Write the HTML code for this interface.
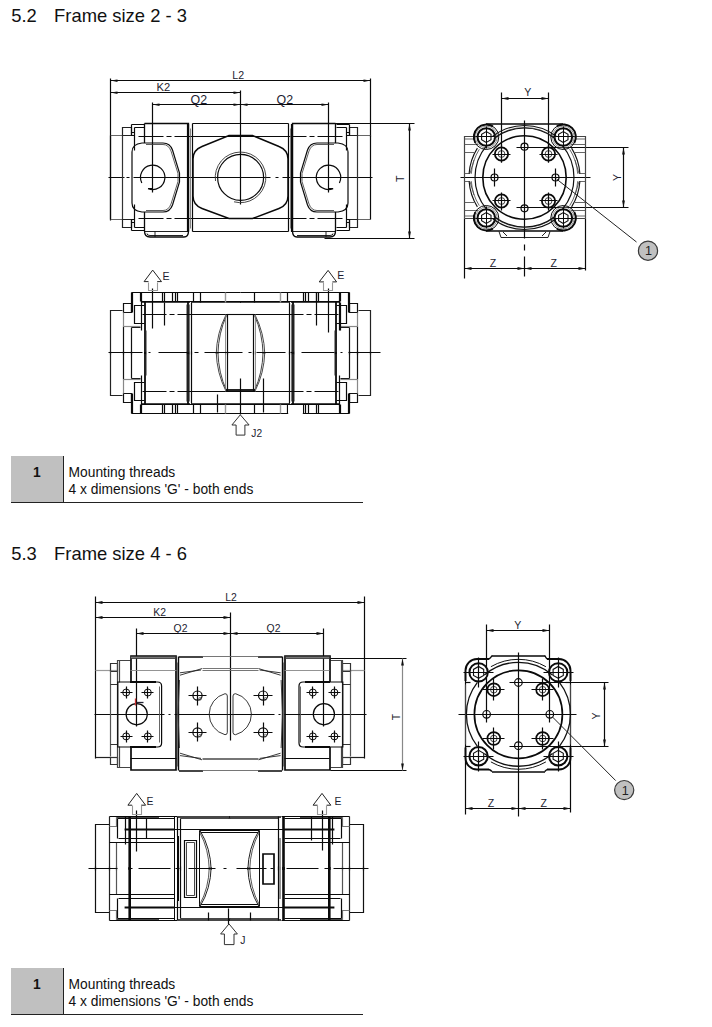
<!DOCTYPE html>
<html><head><meta charset="utf-8">
<style>
html,body{margin:0;padding:0;background:#fff;}
body{width:712px;height:1027px;position:relative;overflow:hidden;font-family:"Liberation Sans",sans-serif;color:#111;}
.h{position:absolute;font-size:18.4px;line-height:20px;white-space:pre;color:#111;}
.tb{position:absolute;left:11px;width:352px;height:46px;border-bottom:1.5px solid #222;}
.tb .n{position:absolute;left:0;top:0;width:51.5px;height:46px;background:#c0c0c0;font-weight:bold;font-size:13.8px;line-height:16.2px;padding-top:9.8px;box-sizing:border-box;text-align:center;}
.tb .v{position:absolute;left:51.5px;top:0;width:1.5px;height:46px;background:#222;}
.tb .t{position:absolute;left:57.6px;top:9.8px;font-size:13.8px;line-height:16.2px;white-space:pre;}
svg{position:absolute;left:0;top:0;}
svg text{font-family:"Liberation Sans",sans-serif;fill:#1c1c30;}
</style></head><body>
<div class="h" style="top:5.8px;left:11.2px">5.2</div><div class="h" style="top:5.8px;left:54.1px">Frame size 2 - 3</div>
<div class="h" style="top:544px;left:11.2px">5.3</div><div class="h" style="top:544px;left:54.1px">Frame size 4 - 6</div>
<div class="tb" style="top:455.5px"><div class="n">1</div><div class="v"></div><div class="t">Mounting threads
4 x dimensions 'G' - both ends</div></div>
<div class="tb" style="top:967.5px"><div class="n">1</div><div class="v"></div><div class="t">Mounting threads
4 x dimensions 'G' - both ends</div></div>
<svg width="712" height="1027" viewBox="0 0 712 1027" fill="none" stroke="#0a0a0a" stroke-width="1.2">
<g id="top1">
<!-- dimension lines -->
<path d="M110.5 78.5V220.5M370.5 78.5V136.5M110.5 80.5H370.5M110.5 92.5H240.5M152.5 102.5V192.5M152.5 104.5H328.5M328.5 102.5V192.5M240.5 90.5V204.5"/>
<path d="M334.5 123.5H414.5M324.5 238.5H414.5M409.5 123.5V238.5"/>
<g fill="#111" stroke="none">
<path d="M110.5 80.5l7-1v2.6zM370.5 80.5l-7-1v2.6zM110.5 92.5l7-1v2.6zM240.5 92.5l-7-1v2.6zM152.5 104.5l7-1v2.6zM240.5 104.5l-7-1v2.6zM240.5 104.5l7-1v2.6zM328.5 104.5l-7-1v2.6zM409.5 123.5l-1.4 7h2.8zM409.5 238.5l-1.4-7h2.8z"/>
</g>
<g stroke="none">
<text x="232.3" y="79" font-size="10.6">L2</text>
<text x="156.5" y="91" font-size="11.2">K2</text>
<text x="190.5" y="103.8" font-size="12.4">Q2</text>
<text x="276.5" y="103.8" font-size="12.4">Q2</text>
<text transform="translate(404,182) rotate(-90)" font-size="10.6">T</text>
</g>
<!-- centre lines -->
<path d="M108.5 177.5H124.5M126.5 177.5H129.5M133.5 177.5H270.5M275.5 177.5H278.5M282.5 177.5H372.5"/>
<path d="M138.5 136.5H196.5M342.5 136.5H284.5M138.5 218.5H196.5M342.5 218.5H284.5" stroke-dasharray="25 3 5 3"/>
<!-- pipe ends -->
<path d="M122.5 135.5H110.5M122.5 219.5H110.5M357.5 135.5H370.5M357.5 219.5H370.5" stroke="#666"/><path d="M110.5 135.5V219.5M370.5 135.5V219.5"/>
<path d="M122.5 127.5H131.5V135.5H122.5zM122.5 219.5H131.5V227.5H122.5zM349.5 127.5H357.5V135.5H349.5zM349.5 219.5H357.5V227.5H349.5z" stroke="#222"/>
<path d="M122.5 135.5V219.5M357.5 135.5V219.5" stroke="#333"/>
<path d="M131.5 124.5H144.5M131.5 124.5V135.5M134.5 127.5V150.5M134.5 127.5H144.5M131.5 132.5H134.5M131.5 135.5H134.5M131.5 230.5H144.5M131.5 230.5V219.5M134.5 227.5V204.5M134.5 227.5H144.5M131.5 222.5H134.5M131.5 219.5H134.5M349.5 124.5H336.5M349.5 124.5V135.5M346.5 127.5V150.5M346.5 127.5H336.5M349.5 132.5H346.5M349.5 135.5H346.5M349.5 230.5H336.5M349.5 230.5V219.5M346.5 227.5V204.5M346.5 227.5H336.5M349.5 222.5H346.5M349.5 219.5H346.5"/>
<!-- blocks -->
<path d="M144.5 123.5H188.5V231Q188.5 237 184 237H150Q144.5 237 144.5 231V212M144.5 123.5V143" stroke-width="1.3"/>
<path d="M188 124V232" stroke-width="2.2"/>
<path d="M144.5 231.5H188M155 231.5V237M147 233.5Q147 235.5 150 235.5H183" stroke-width="0.9"/>
<path d="M335.5 123.5H292.5V231Q292.5 237 297 237H330Q335.5 237 335.5 231V212M335.5 123.5V143" stroke-width="1.3"/>
<path d="M292 124V232" stroke-width="2.2"/>
<path d="M335.5 231.5H293M326 231.5V237M333 233.5Q333 235.5 330 235.5H297" stroke-width="0.9"/>
<!-- flanges -->
<path id="fl1" d="M144.5 143H163Q170 143 172.5 150L179.5 173V182L172.5 205Q170 212 163 212H144.5Q144.5 212 142 212Q132 211 132 203V152Q132 144 142 143Z" stroke-width="1.2"/>
<path d="M146 144.5H163Q168.5 144.5 171 151L178 173.5V181.5L171 204Q168.5 210.5 163 210.5H146" stroke-width="0.8" stroke="#333"/>
<path d="M335.5 143H317Q310 143 307.5 150L300.5 173V182L307.5 205Q310 212 317 212H335.5Q335.5 212 338 212Q348 211 348 203V152Q348 144 338 143Z" stroke-width="1.2"/>
<path d="M334 144.5H317Q311.5 144.5 309 151L302 173.5V181.5L309 204Q311.5 210.5 317 210.5H334" stroke-width="0.8" stroke="#333"/>
<!-- small thread circles -->
<path d="M141.8 182.9A12.2 12.2 0 1 1 148.1 188.7H153" />
<path d="M339.4 182.9A12.2 12.2 0 1 0 333.1 188.7H328" />
<!-- middle section -->
<path d="M192.5 123.5H288.5M192.5 231.5H288.5M192.5 123.5V231.5M288.5 123.5V231.5M188.5 136.5H292.5M188.5 218.5H292.5" />
<path d="M190.5 128.5V228.5M290.5 128.5V228.5" stroke="#666" stroke-width="0.8"/>
<path d="M229 135.5H252.5L279 146.5Q288 150 288 159V196Q288 205 279 208.5L252.5 218.5H229L202 208.5Q193 205 193 196V159Q193 150 202 146.5Z" stroke-width="1.5"/>
<circle cx="240.6" cy="177.4" r="23"/>
<path d="M215.5 181A25.3 25.3 0 1 1 234 201.8" stroke="#333" stroke-width="0.9"/>
</g>

<g id="top2">
<path d="M501.5 92.5V162.5M548.5 92.5V162.5M501.5 98.5H548.5M516.5 147.5H628.5M516.5 207.5H628.5M623.5 147.5V207.5M464.5 218.5V278.5M585.5 218.5V270.5M464.5 268.5H585.5" />
<path d="M524.5 120.5V238.5M524.5 244.5V250.5M524.5 256.5V276.5" />
<path d="M460.5 177.5H590.5" />
<g fill="#111" stroke="none"><path d="M501.5 98.5l7-1.4v2.8zM548.5 98.5l-7-1.4v2.8zM623.5 147.5l-1.4 7h2.8zM623.5 207.5l-1.4-7h2.8zM464.5 268.5l7-1.4v2.8zM524.5 268.5l-7-1.4v2.8zM524.5 268.5l7-1.4v2.8zM585.5 268.5l-7-1.4v2.8z"/></g>
<g stroke="none"><text x="524.3" y="95.8" font-size="10.6">Y</text><text x="489.8" y="266.8" font-size="10.6">Z</text><text x="550.5" y="267.2" font-size="10.6">Z</text><text transform="translate(620.5,181) rotate(-90)" font-size="10.6">Y</text></g>
<path d="M476.5 136.5H464.5V218.5M572.5 136.5H585.5V218.5M464.5 218.5H476.5M585.5 218.5H572.5" stroke="#444"/>
<path d="M464.5 139H474M464.5 144.5H478M464.5 152.5H474M464.5 173.5H470L474 160M464.5 181.5H470L474 195M464.5 202.5H474M464.5 210.5H478M464.5 216H474" stroke="#555" stroke-width="0.9"/>
<path d="M585.5 139H575M585.5 144.5H571M585.5 152.5H575M585.5 173.5H579L575 160M585.5 181.5H579L575 195M585.5 202.5H575M585.5 210.5H571M585.5 216H575" stroke="#555" stroke-width="0.9"/>
<path d="M486 124H563M486 231H563" stroke-width="1.5"/>
<path d="M499 231.5L501 237.5H548L550 231.5M503 232L507 236M546 232L542 236" stroke-width="0.9"/>
<circle cx="486.3" cy="137" r="12.5" stroke-width="1"/>
<circle cx="486.3" cy="137" r="10.9" stroke="#666" stroke-width="0.7"/>
<circle cx="486.3" cy="137" r="8.8" stroke-width="2" fill="#fff"/>
<path d="M486.3 142.4L481.6 139.7L481.6 134.3L486.3 131.6L491 134.3L491 139.7Z" stroke-width="1.1" stroke="#111"/>
<path d="M475.5 136.5H497.5M486.5 126.5V148.5" stroke-width="1"/>
<circle cx="486.3" cy="218" r="12.5" stroke-width="1"/>
<circle cx="486.3" cy="218" r="10.9" stroke="#666" stroke-width="0.7"/>
<circle cx="486.3" cy="218" r="8.8" stroke-width="2" fill="#fff"/>
<path d="M486.3 223.4L481.6 220.7L481.6 215.3L486.3 212.6L491 215.3L491 220.7Z" stroke-width="1.1" stroke="#111"/>
<path d="M475.5 218.5H497.5M486.5 206.5V228.5" stroke-width="1"/>
<circle cx="563.3" cy="137" r="12.5" stroke-width="1"/>
<circle cx="563.3" cy="137" r="10.9" stroke="#666" stroke-width="0.7"/>
<circle cx="563.3" cy="137" r="8.8" stroke-width="2" fill="#fff"/>
<path d="M563.3 142.4L558.6 139.7L558.6 134.3L563.3 131.6L568 134.3L568 139.7Z" stroke-width="1.1" stroke="#111"/>
<path d="M552.5 136.5H574.5M563.5 126.5V148.5" stroke-width="1"/>
<circle cx="563.3" cy="218" r="12.5" stroke-width="1"/>
<circle cx="563.3" cy="218" r="10.9" stroke="#666" stroke-width="0.7"/>
<circle cx="563.3" cy="218" r="8.8" stroke-width="2" fill="#fff"/>
<path d="M563.3 223.4L558.6 220.7L558.6 215.3L563.3 212.6L568 215.3L568 220.7Z" stroke-width="1.1" stroke="#111"/>
<path d="M552.5 218.5H574.5M563.5 206.5V228.5" stroke-width="1"/>
<path d="M475.3 142.9A12.5 12.5 0 0 1 492.9 126.4" stroke-width="1.9"/>
<path d="M492.9 228.6A12.5 12.5 0 0 1 475.3 212.1" stroke-width="1.9"/>
<path d="M556.8 126.3A12.5 12.5 0 0 1 574.3 143" stroke-width="1.9"/>
<path d="M574.3 212A12.5 12.5 0 0 1 556.8 228.7" stroke-width="1.9"/>
<path d="M571.6 148.1A55.5 55.5 0 0 1 579.9 173.6" stroke-width="1.1" stroke="#111"/>
<path d="M569.7 149.3A53.3 53.3 0 0 1 577.7 173.8" stroke-width="0.8" stroke="#444"/>
<path d="M579.9 181.4A55.5 55.5 0 0 1 571.6 206.9" stroke-width="1.1" stroke="#111"/>
<path d="M577.7 181.2A53.3 53.3 0 0 1 569.7 205.7" stroke-width="0.8" stroke="#444"/>
<path d="M477.4 206.9A55.5 55.5 0 0 1 469.1 181.4" stroke-width="1.1" stroke="#111"/>
<path d="M479.3 205.7A53.3 53.3 0 0 1 471.3 181.2" stroke-width="0.8" stroke="#444"/>
<path d="M469.1 173.6A55.5 55.5 0 0 1 477.4 148.1" stroke-width="1.1" stroke="#111"/>
<path d="M471.3 173.8A53.3 53.3 0 0 1 479.3 149.3" stroke-width="0.8" stroke="#444"/>
<path d="M492.5 136.5A52 52 0 0 1 556.5 136.5" stroke-width="1.1" stroke="#111"/>
<path d="M493.7 138.1A50 50 0 0 1 555.3 138.1" stroke-width="0.8" stroke="#444"/>
<path d="M556.5 218.5A52 52 0 0 1 492.5 218.5" stroke-width="1.1" stroke="#111"/>
<path d="M555.3 216.9A50 50 0 0 1 493.7 216.9" stroke-width="0.8" stroke="#444"/>
<path d="M562.4 145.7A49.5 49.5 0 0 1 562.4 209.3" stroke-width="1.2" stroke="#111"/>
<path d="M486.6 209.3A49.5 49.5 0 0 1 486.6 145.7" stroke-width="1.2" stroke="#111"/>
<path d="M494.7 138A49.5 49.5 0 0 1 554.3 138" stroke-width="1.2" stroke="#111"/>
<path d="M554.3 217A49.5 49.5 0 0 1 494.7 217" stroke-width="1.2" stroke="#111"/>
<circle cx="524.5" cy="177.5" r="41.7" stroke-width="1.6"/>
<circle cx="501.5" cy="154" r="6.6" stroke-width="1.8" fill="#fff"/>
<circle cx="501.5" cy="154" r="3.4" stroke-width="0.9" stroke="#333"/>
<path d="M492.5 154.5H510.5M501.5 144.5V162.5"/>
<circle cx="501.5" cy="201" r="6.6" stroke-width="1.8" fill="#fff"/>
<circle cx="501.5" cy="201" r="3.4" stroke-width="0.9" stroke="#333"/>
<path d="M492.5 200.5H510.5M501.5 192.5V210.5"/>
<circle cx="548.5" cy="154" r="6.6" stroke-width="1.8" fill="#fff"/>
<circle cx="548.5" cy="154" r="3.4" stroke-width="0.9" stroke="#333"/>
<path d="M539.5 154.5H557.5M548.5 144.5V162.5"/>
<circle cx="548.5" cy="201" r="6.6" stroke-width="1.8" fill="#fff"/>
<circle cx="548.5" cy="201" r="3.4" stroke-width="0.9" stroke="#333"/>
<path d="M539.5 200.5H557.5M548.5 192.5V210.5"/>
<circle cx="524.5" cy="146.7" r="3.5" stroke-width="1.2"/>
<circle cx="524.5" cy="208.3" r="3.5" stroke-width="1.2"/>
<circle cx="494.5" cy="177.5" r="3.5" stroke-width="1.2"/>
<circle cx="555.5" cy="177.5" r="3.5" stroke-width="1.2"/>
<path d="M494.5 168.5V186.5M555.5 168.5V186.5"/>
<path d="M556.5 179L636.5 242" stroke-width="1" stroke="#222"/>
<circle cx="648" cy="250.7" r="9.6" fill="#c0c0c0" stroke="#3a3a3a" stroke-width="1.2"/>
<text x="645" y="255" font-size="12.6" stroke="none" style="fill:#222">1</text>
</g>

<g id="top3">
<defs>
<g id="t3q">
<!-- pipe end + nut -->
<path d="M122.5 310.5H110.5V354.5" stroke="#222"/>
<path d="M123.5 303.5H131.5V312.5H123.5zM123.5 326.5V354.5M131.5 327.5V354.5M131.5 327.5H140.5" stroke="#111"/>
<path d="M123.5 312.5V326.5" stroke="#888"/>
<path d="M123.5 326.5H140.5" stroke="#888"/>
<path d="M144.5 305.5H134.5V323.5H144.5"/>
<!-- top plate -->
<path d="M131.5 292.5H240.5M131.5 292.5V312.5M132.5 292.5V312.5M141.5 301.5H240.5M141.5 300.5V330.5"/>
<path d="M140.5 292.5V301.5M141.5 292.5V301.5M162.5 292.5V301.5M164.5 292.5V301.5M172.5 292.5V301.5M175.5 292.5V301.5M177.5 292.5V301.5M193.5 292.5V301.5"/>
<!-- block -->
<path d="M145 302V354M188 302V354" stroke-width="1.8"/>
<path d="M141 302H190" stroke-width="1.6"/>
<path d="M186.5 304.5V354.5M146.5 330.5V354.5" stroke="#777" stroke-width="0.8"/>
<path d="M142.5 314.5H190.5" stroke-width="1.2" stroke-dasharray="24 3 5 3"/>
<!-- middle -->
<path d="M191.5 302.5V354.5"/>
<path d="M189.5 304.5V354.5" stroke="#555" stroke-width="0.8"/>
<path d="M191 302H241" stroke-width="1.7"/>
<path d="M188.5 314.5H240.5"/>
<!-- lens -->
<path d="M227.5 314.5V354.5"/>
<path d="M226.5 315.5Q218.5 333 217.9 354" stroke="#444" stroke-width="1"/>
<path d="M226 314.8Q216.8 333 216.2 354" stroke="#333" stroke-width="0.9"/>
<path d="M225.5 314.5V354.5" stroke="#777" stroke-width="0.8"/>
</g>
<g id="t3h"><use href="#t3q"/><use href="#t3q" transform="translate(0,706) scale(1,-1)"/></g>
</defs>
<use href="#t3h"/><use href="#t3h" transform="translate(481,0) scale(-1,1)"/>
<path d="M200.5 292.5V302.5M254.5 292.5V302.5M200.5 404.5V413.5M254.5 404.5V413.5"/>
<path d="M225.5 292.5V302.5M280.5 292.5V302.5M225.5 404.5V413.5M280.5 404.5V413.5" stroke="#999" stroke-width="1.4"/>
<rect x="288.2" y="405" width="14.6" height="9.4" fill="#fff" stroke="none"/>
<!-- bottom of lens bold -->
<path d="M226 390H255" stroke-width="1.8"/>
<path d="M226.5 314.5H254.5" stroke-width="1.1"/>
<!-- centre line -->
<path d="M108.5 352.5H142.5M148.5 352.5H150.5M158.5 352.5H187.5M194.5 352.5H198.5M204.5 352.5H242.5M248.5 352.5H251.5M256.5 352.5H285.5M290.5 352.5H292.5M301.5 352.5H334.5M340.5 352.5H342.5M348.5 352.5H380.5"/>
<!-- short verticals -->
<path d="M152.5 288.5V328.5M164.5 302.5V325.5M316.5 292.5V325.5M328.5 288.5V332.5M340.5 302.5V330.5M217.5 394.5V412.5M240.5 378.5V414.5M263.5 378.5V412.5"/>
<!-- arrows -->
<path d="M148.5 281.6H144.1L152.7 270.1L161.5 281.6H157.2" stroke="#222" stroke-width="1"/><path d="M148.5 282.5V290.5H157.5V282.5" stroke="#999" stroke-width="1.1"/>
<path d="M323.9 281.9H319.2L328.1 270.4L336.6 281.9H332.4" stroke="#222" stroke-width="1"/><path d="M323.5 282.5V290.5H332.5V282.5" stroke="#999" stroke-width="1.1"/>
<path d="M240.3 414.8L231.9 425H236.1V435.1H244.9V425H249.1Z" stroke="#333" stroke-width="1"/>
<g stroke="none">
<text x="162.4" y="280" font-size="10.6">E</text>
<text x="337.2" y="279" font-size="10.6">E</text>
<text x="251.3" y="436.9" font-size="10.2">J2</text>
</g>
</g>

<g id="bot1">
<path d="M95.5 596.5V758.5M364.5 596.5V758.5M95.5 602.5H364.5M95.5 617.5H230.5M230.5 612.5V740.5M136.5 628.5V726.5M323.5 628.5V726.5M136.5 633.5H323.5"/>
<path d="M330.5 658.5H406.5M330.5 770.5H406.5"/><path d="M402.5 658.5V770.5" stroke="#888"/>
<g fill="#111" stroke="none"><path d="M95.5 602.5l7-1.4v2.8zM364.5 602.5l-7-1.4v2.8zM95.5 617.5l7-1.4v2.8zM230.5 617.5l-7-1.4v2.8zM136.5 633.5l7-1.4v2.8zM230.5 633.5l-7-1.4v2.8zM230.5 633.5l7-1.4v2.8zM323.5 633.5l-7-1.4v2.8zM402.5 658.5l-1.4 7h2.8zM402.5 770.5l-1.4-7h2.8z"/></g>
<g stroke="none"><text x="225.2" y="601.2" font-size="10.4">L2</text><text x="153.3" y="615.7" font-size="10.4">K2</text><text x="173.6" y="632" font-size="10.4">Q2</text><text x="266.6" y="632" font-size="10.4">Q2</text><text transform="translate(400.2,720.2) rotate(-90)" font-size="10.4">T</text></g>
<path d="M94.5 714.5H164.5M168.5 714.5H170.5M174.5 714.5H274.5M278.5 714.5H280.5M284.5 714.5H366.5"/>
<path d="M95.5 670.5H117.5" stroke="#999"/>
<path d="M95.5 757.5H117.5" stroke="#222"/>
<path d="M110.5 663.5H117.5V671.5H110.5zM110.5 757.5H117.5V764.5H110.5z" stroke="#333"/>
<path d="M110.5 670.5V756.5" stroke="#555"/>
<path d="M110.5 684.5H117.5M110.5 744.5H117.5" stroke="#333"/>
<path d="M130.5 660.5H117.5V767.5H130.5M119.5 660.5V682.5M119.5 767.5V746.5" stroke="#444"/>
<path d="M131 682V656H176V770H131V747" stroke-width="1.7"/>
<path d="M130.5 656.5H175.5V658.5H130.5z" fill="#777" stroke="#333" stroke-width="0.8"/>
<path d="M130.5 758.5H176.5" stroke-width="1"/>
<path d="M130.5 670.5H176.5" stroke="#888" stroke-width="0.9"/>
<path d="M117.8 682H157.5Q161.6 682 161.6 686V743Q161.6 747 157.5 747H117.8Z" stroke-width="1.2"/>
<path d="M130 682H156M130 747H156" stroke-width="1.8"/>
<path d="M159.5 686.5V742.5" stroke="#555" stroke-width="0.9"/>
<circle cx="126.2" cy="692.5" r="3.5" stroke-width="1"/>
<path d="M120.5 692.5H132.5M126.5 686.5V698.5"/>
<circle cx="126.2" cy="736.4" r="3.5" stroke-width="1"/>
<path d="M120.5 736.5H132.5M126.5 730.5V742.5"/>
<circle cx="147.8" cy="692.5" r="3.5" stroke-width="1"/>
<path d="M141.5 692.5H153.5M147.5 686.5V698.5"/>
<circle cx="147.8" cy="736.4" r="3.5" stroke-width="1"/>
<path d="M141.5 736.5H153.5M147.5 730.5V742.5"/>
<circle cx="136.7" cy="714.2" r="10.6"/>
<path d="M178.5 656.5V770.5" stroke-width="1.4"/>
<path d="M177.5 662.5V766.5" stroke="#555" stroke-width="0.8"/>
<path d="M179.5 680Q176.5 714 179.5 748" stroke="#333" stroke-width="0.9"/>
<path d="M179 657H203M179 771H203" stroke-width="1.7"/>
<path d="M180 675.2L202 668.6M180 672.8L201 670M180 753.2L202 759.8M180 755.6L201 758.4" stroke="#222" stroke-width="0.9"/>
<circle cx="197.5" cy="695.6" r="4.6" stroke-width="1.2"/>
<path d="M188.5 695.5H206.5M197.5 686.5V705.5"/>
<circle cx="197.5" cy="732.4" r="4.6" stroke-width="1.2"/>
<path d="M188.5 732.5H206.5M197.5 722.5V741.5"/>
<path d="M364.5 670.5H342.5" stroke="#999"/>
<path d="M364.5 757.5H342.5" stroke="#222"/>
<path d="M350.5 663.5H342.5V671.5H350.5zM350.5 757.5H342.5V764.5H350.5z" stroke="#333"/>
<path d="M350.5 670.5V756.5" stroke="#555"/>
<path d="M350.5 684.5H342.5M350.5 744.5H342.5" stroke="#333"/>
<path d="M330.5 660.5H342.5V767.5H330.5M341.5 660.5V682.5M341.5 767.5V746.5" stroke="#444"/>
<path d="M330 682V656H285V770H330V747" stroke-width="1.7"/>
<path d="M329.5 656.5H285.5V658.5H329.5z" fill="#777" stroke="#333" stroke-width="0.8"/>
<path d="M329.5 758.5H284.5" stroke-width="1"/>
<path d="M329.5 670.5H284.5" stroke="#888" stroke-width="0.9"/>
<path d="M342.8 682H303.1Q299 682 299 686V743Q299 747 303.1 747H342.8Z" stroke-width="1.2"/>
<path d="M330 682H305M330 747H305" stroke-width="1.8"/>
<path d="M300.5 686.5V742.5" stroke="#555" stroke-width="0.9"/>
<circle cx="334.4" cy="692.5" r="3.5" stroke-width="1"/>
<path d="M340.5 692.5H328.5M334.5 686.5V698.5"/>
<circle cx="334.4" cy="736.4" r="3.5" stroke-width="1"/>
<path d="M340.5 736.5H328.5M334.5 730.5V742.5"/>
<circle cx="312.8" cy="692.5" r="3.5" stroke-width="1"/>
<path d="M318.5 692.5H306.5M312.5 686.5V698.5"/>
<circle cx="312.8" cy="736.4" r="3.5" stroke-width="1"/>
<path d="M318.5 736.5H306.5M312.5 730.5V742.5"/>
<circle cx="323.9" cy="714.2" r="10.6"/>
<path d="M282.5 656.5V770.5" stroke-width="1.4"/>
<path d="M283.5 662.5V766.5" stroke="#555" stroke-width="0.8"/>
<path d="M281.1 680Q284.1 714 281.1 748" stroke="#333" stroke-width="0.9"/>
<path d="M282 657H258M282 771H258" stroke-width="1.7"/>
<path d="M280.6 675.2L258.6 668.6M280.6 672.8L259.6 670M280.6 753.2L258.6 759.8M280.6 755.6L259.6 758.4" stroke="#222" stroke-width="0.9"/>
<circle cx="263.1" cy="695.6" r="4.6" stroke-width="1.2"/>
<path d="M272.5 695.5H253.5M263.5 686.5V705.5"/>
<circle cx="263.1" cy="732.4" r="4.6" stroke-width="1.2"/>
<path d="M272.5 732.5H253.5M263.5 722.5V741.5"/>
<path d="M202.5 656.5H258.5M202.5 770.5H258.5M202.5 668.5H258.5M202.5 759.5H258.5M202.5 670.5H258.5M202.5 758.5H258.5" stroke="#666" stroke-width="0.9"/>
<circle cx="200.1" cy="698.8" r="1.3" stroke="#444" stroke-width="0.7"/>
<circle cx="200.1" cy="735.6" r="1.3" stroke="#444" stroke-width="0.7"/>
<circle cx="265.5" cy="698.8" r="1.3" stroke="#444" stroke-width="0.7"/>
<circle cx="265.5" cy="735.6" r="1.3" stroke="#444" stroke-width="0.7"/>
<path d="M227.3 696Q227.3 693.6 225 693.7A21.2 21.2 0 0 0 225 734.7Q227.3 734.8 227.3 732.4Z" stroke="#222" stroke-width="0.9"/>
<path d="M233 696Q233 693.6 235.6 693.7A21.2 21.2 0 0 1 235.6 734.7Q233 734.8 233 732.4Z" stroke="#222" stroke-width="0.9"/>
<path d="M135.5 698.5V705.5" stroke="#c33" stroke-width="1.3"/><path d="M136.5 702.5H143.5" stroke="#223" stroke-width="1.3"/>
</g>

<g id="bot2">
<path d="M486.5 624.5V722.5M549.5 624.5V722.5M486.5 630.5H549.5M509.5 682.5H608.5M509.5 746.5H608.5M604.5 682.5V746.5M465.5 672.5V814.5M570.5 672.5V812.5M465.5 808.5H570.5"/>
<path d="M518.5 652.5V816.5"/>
<path d="M458.5 714.5H576.5"/>
<g fill="#111" stroke="none"><path d="M486.5 630.5l7-1.4v2.8zM549.5 630.5l-7-1.4v2.8zM604.5 682.5l-1.4 7h2.8zM604.5 746.5l-1.4-7h2.8zM465.5 808.5l7-1.4v2.8zM518.5 808.5l-7-1.4v2.8zM518.5 808.5l7-1.4v2.8zM570.5 808.5l-7-1.4v2.8z"/></g>
<g stroke="none"><text x="514.3" y="629" font-size="10.6">Y</text><text x="487.8" y="806.5" font-size="10.6">Z</text><text x="540.6" y="806.5" font-size="10.6">Z</text><text transform="translate(600,719.5) rotate(-90)" font-size="10.6">Y</text></g>
<path d="M492 656H545M492 772H545" stroke-width="1.5"/>
<path d="M465.5 684.5V744.5M570.5 684.5V744.5" stroke="#444" stroke-width="1.1"/>
<path d="M465.5 681V670.5A11.5 11.5 0 0 1 477 659H489" stroke-width="1.9"/>
<path d="M489 659Q490.5 658.5 492 655.5" stroke-width="1.4"/>
<path d="M488.4 672.4A9.8 9.8 0 1 1 488.4 672.4" stroke-width="0.8" stroke="#555"/>
<circle cx="478.6" cy="672.4" r="9.2" stroke-width="2" fill="#fff"/>
<path d="M478.6 678.3L473.5 675.4L473.5 669.4L478.6 666.5L483.7 669.4L483.7 675.4Z" stroke-width="1.1" stroke="#111"/>
<path d="M463.5 672.5H493.5M478.5 657.5V687.5"/>
<path d="M465.5 682.5H470.5" stroke-width="1.2"/>
<path d="M465.5 747.5V758A11.5 11.5 0 0 0 477 769.5H489" stroke-width="1.9"/>
<path d="M489 769.5Q490.5 770 492 771.5" stroke-width="1.4"/>
<path d="M488.4 756.2A9.8 9.8 0 1 1 488.4 756.2" stroke-width="0.8" stroke="#555"/>
<circle cx="478.6" cy="756.2" r="9.2" stroke-width="2" fill="#fff"/>
<path d="M478.6 762.1L473.5 759.2L473.5 753.2L478.6 750.3L483.7 753.2L483.7 759.2Z" stroke-width="1.1" stroke="#111"/>
<path d="M463.5 756.5H493.5M478.5 741.5V771.5"/>
<path d="M465.5 746.5H470.5" stroke-width="1.2"/>
<path d="M570.5 681V670.5A11.5 11.5 0 0 0 559 659H547" stroke-width="1.9"/>
<path d="M547 659Q546.3 658.5 544.8 655.5" stroke-width="1.4"/>
<path d="M568 672.4A9.8 9.8 0 1 1 568 672.4" stroke-width="0.8" stroke="#555"/>
<circle cx="558.2" cy="672.4" r="9.2" stroke-width="2" fill="#fff"/>
<path d="M558.2 678.3L553.1 675.4L553.1 669.4L558.2 666.5L563.3 669.4L563.3 675.4Z" stroke-width="1.1" stroke="#111"/>
<path d="M543.5 672.5H573.5M558.5 657.5V687.5"/>
<path d="M570.5 682.5H565.5" stroke-width="1.2"/>
<path d="M570.5 747.5V758A11.5 11.5 0 0 1 559 769.5H547" stroke-width="1.9"/>
<path d="M547 769.5Q546.3 770 544.8 771.5" stroke-width="1.4"/>
<path d="M568 756.2A9.8 9.8 0 1 1 568 756.2" stroke-width="0.8" stroke="#555"/>
<circle cx="558.2" cy="756.2" r="9.2" stroke-width="2" fill="#fff"/>
<path d="M558.2 762.1L553.1 759.2L553.1 753.2L558.2 750.3L563.3 753.2L563.3 759.2Z" stroke-width="1.1" stroke="#111"/>
<path d="M543.5 756.5H573.5M558.5 741.5V771.5"/>
<path d="M570.5 746.5H565.5" stroke-width="1.2"/>
<path d="M490.9 666.7A55 55 0 0 1 545.9 666.7" stroke-width="1" stroke="#111"/>
<path d="M545.9 761.9A55 55 0 0 1 490.9 761.9" stroke-width="1" stroke="#111"/>
<path d="M484.3 675.1A52 52 0 0 1 552.5 675.1" stroke-width="1.3" stroke="#111"/>
<path d="M552.5 753.5A52 52 0 0 1 484.3 753.5" stroke-width="1.3" stroke="#111"/>
<path d="M559.4 682.3A52 52 0 0 1 559.4 746.3" stroke-width="1.3" stroke="#111"/>
<path d="M477.4 746.3A52 52 0 0 1 477.4 682.3" stroke-width="1.3" stroke="#111"/>
<circle cx="518.4" cy="714.3" r="44" stroke-width="1.7"/>
<circle cx="493.8" cy="689.7" r="6.4" stroke-width="1.7" fill="#fff"/>
<circle cx="493.8" cy="689.7" r="3.3" stroke-width="0.9" stroke="#333"/>
<path d="M482.5 689.5H504.5M493.5 678.5V700.5"/>
<circle cx="493.8" cy="738.5" r="6.4" stroke-width="1.7" fill="#fff"/>
<circle cx="493.8" cy="738.5" r="3.3" stroke-width="0.9" stroke="#333"/>
<path d="M482.5 738.5H504.5M493.5 727.5V749.5"/>
<circle cx="542.6" cy="689.7" r="6.4" stroke-width="1.7" fill="#fff"/>
<circle cx="542.6" cy="689.7" r="3.3" stroke-width="0.9" stroke="#333"/>
<path d="M531.5 689.5H553.5M542.5 678.5V700.5"/>
<circle cx="542.6" cy="738.5" r="6.4" stroke-width="1.7" fill="#fff"/>
<circle cx="542.6" cy="738.5" r="3.3" stroke-width="0.9" stroke="#333"/>
<path d="M531.5 738.5H553.5M542.5 727.5V749.5"/>
<circle cx="518.4" cy="682.5" r="3.8" stroke-width="1.2"/>
<circle cx="518.4" cy="745.7" r="3.8" stroke-width="1.2"/>
<circle cx="486.6" cy="714.3" r="3.8" stroke-width="1.2"/>
<circle cx="549.8" cy="714.3" r="3.8" stroke-width="1.2"/>
<path d="M552.5 717L615.7 780.6" stroke-width="1" stroke="#222"/>
<circle cx="624.2" cy="790.1" r="9.6" fill="#c0c0c0" stroke="#3a3a3a" stroke-width="1.2"/>
<text x="621.8" y="794.8" font-size="12.6" stroke="none" style="fill:#222">1</text>
</g>

<g id="bot3">
<defs>
<g id="b3q">
<!-- pipe end -->
<path d="M109.5 824.5H95.5V870.5" stroke="#111"/>
<path d="M109.5 816.5V870.5" stroke="#222"/>
<path d="M116.5 842.5V870.5" stroke="#555"/>
<path d="M109.5 816.5H116.5V826.5H109.5" stroke="#777"/>
<!-- top line -->
<path d="M109.5 816.5H177.5"/>
<path d="M117 817H159" stroke-width="1.7"/>
<!-- rect behind -->
<path d="M117.5 818.5H174.5M117.5 818.5V838.5"/>
<path d="M118.5 838.5H174.5M109.5 842.5H174.5"/>
<path d="M124.6 829.5L175 829.5" stroke-width="1.8"/>
<!-- block verticals -->
<path d="M129.7 817V870" stroke-width="2.6"/>
<!-- middle section -->
<path d="M178 817H230" stroke-width="1.5"/>
<path d="M180.5 818.5H230.5" stroke="#333" stroke-width="0.9"/>
<path d="M174.5 829.5H230.5"/>
<!-- lens box -->
<path d="M199.5 830.5V870.5M199.5 830.5H230.5M200.5 832.5H230.5" stroke-width="1"/>
<path d="M200.3 831Q210.6 848 211.2 870" stroke="#222" stroke-width="1"/>
<path d="M199.8 832.5Q208.8 849 209.3 870" stroke="#444" stroke-width="0.9"/>
</g>
<g id="b3e">
<path d="M174.5 816.5V870.5" stroke-width="1"/>
<path d="M177.5 816.5V836.5M180.5 818.5V870.5"/>
<path d="M178 836V870" stroke-width="2"/>
</g>
<g id="b3r">
<path d="M278.5 816.5V870.5"/>
<path d="M280 838V870" stroke="#888" stroke-width="1.8"/>
<path d="M283.5 817L283.5 870" stroke-width="2.6"/>
</g>
<g id="b3h"><use href="#b3q"/><use href="#b3q" transform="translate(0,1737) scale(1,-1)"/></g>
</defs>
<use href="#b3h"/><use href="#b3h" transform="translate(459,0) scale(-1,1)"/>
<use href="#b3e"/><use href="#b3e" transform="translate(0,1737) scale(1,-1)"/><use href="#b3r"/><use href="#b3r" transform="translate(0,1737) scale(1,-1)"/>
<!-- left slot -->
<path d="M184.5 840.5H196.5V897.5H184.5z" stroke-width="1.2"/>
<path d="M186.5 842.5H194.5V895.5H186.5z" stroke-width="0.9" stroke="#333"/>
<!-- right rect -->
<path d="M263 854H274V884H263z" stroke-width="1.7"/>
<!-- centre line -->
<path d="M88.5 868.5H117.5M128.5 868.5H132.5M138.5 868.5H170.5M175.5 868.5H179.5M188.5 868.5H215.5M223.5 868.5H226.5M236.5 868.5H266.5M270.5 868.5H273.5M286.5 868.5H318.5M324.5 868.5H328.5M333.5 868.5H368.5"/>
<!-- short verticals -->
<path d="M146.5 818.5V838.5M125.5 816.5V844.5M136.5 810.5V851.5M311.5 816.5V840.5M322.5 810.5V850.5M332.5 816.5V844.5M208.5 912.5V920.5M250.5 912.5V920.5M228.5 908.5V924.5"/>
<!-- arrows -->
<path d="M132.1 805.2H127.9L136.7 793.4L145.6 805.2H141.1" stroke="#222" stroke-width="1"/><path d="M132.5 805.5V814.5H141.5V805.5" stroke="#999" stroke-width="1.1"/>
<path d="M317.6 805.2H313.1L322 793.4L330.8 805.2H326.6" stroke="#222" stroke-width="1"/><path d="M317.5 805.5V814.5H326.5V805.5" stroke="#999" stroke-width="1.1"/>
<path d="M229 923.9L220.6 934H224.4V944.6H234V934H237.4Z" stroke="#333" stroke-width="1"/>
<g stroke="none">
<text x="146.5" y="805" font-size="10.4">E</text>
<text x="334.4" y="805" font-size="10.4">E</text>
<text x="240.3" y="944.2" font-size="10.4">J</text>
</g>
</g>

</svg>
</body></html>
